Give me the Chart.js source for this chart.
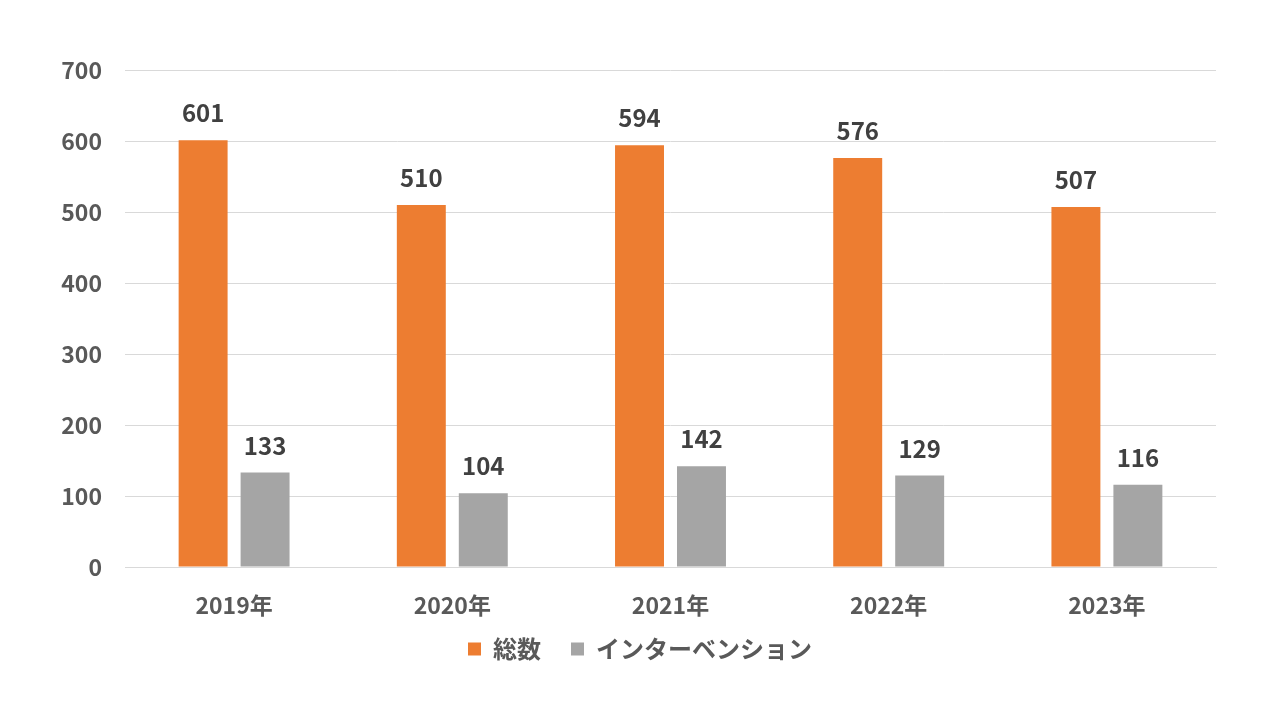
<!DOCTYPE html>
<html>
<head>
<meta charset="utf-8">
<script src="https://cdn.jsdelivr.net/npm/chart.js@4/dist/chart.umd.min.js"></script>
<style>
  html, body { margin: 0; padding: 0; background: #ffffff; }
  #wrap { width: 1280px; height: 720px; }
</style>
</head>
<body>
<div id="wrap"><canvas id="barChart"></canvas></div>
<script>
const years = ['2019年', '2020年', '2021年', '2022年', '2023年'];
const totalCounts = [601, 510, 594, 576, 507];
const interventionCounts = [133, 104, 142, 129, 116];
const yTicks = [0, 100, 200, 300, 400, 500, 600, 700];

const FONT = '"Noto Sans CJK JP", "Noto Sans", sans-serif';

// draws the value above each bar
const valueLabels = {
    id: 'valueLabels',
    afterDatasetsDraw(chart) {
        const ctx = chart.ctx;
        ctx.save();
        ctx.font = 'bold 24px ' + FONT;
        ctx.fillStyle = '#404040';
        ctx.textAlign = 'center';
        ctx.textBaseline = 'middle';
        chart.data.datasets.forEach((ds, i) => {
            chart.getDatasetMeta(i).data.forEach((bar, j) => {
                ctx.fillText(ds.data[j], bar.x, bar.y - 27);
            });
        });
        ctx.restore();
    }
};

// axis boxes are kept narrow for the layout, so widen their label clip area afterwards
const unclipLabels = {
    id: 'unclipLabels',
    afterLayout(chart) {
        chart.scales.x.bottom = chart.height;
        chart.scales.y.left = 0;
    }
};

const ctx = document.getElementById('barChart').getContext('2d');
const barChart = new Chart(ctx, {
    type: 'bar',
    data: {
        labels: years,
        datasets: [{
            label: '総数',
            data: totalCounts,
            backgroundColor: '#ED7D31'
        }, {
            label: 'インターベンション',
            data: interventionCounts,
            backgroundColor: '#A5A5A5'
        }]
    },
    options: {
        responsive: true,
        maintainAspectRatio: false,
        animation: false,
        categoryPercentage: 0.568,
        barPercentage: 0.79,
        layout: {
            padding: { top: 70, right: 64, left: 64, bottom: 49 }
        },
        scales: {
            y: {
                min: 0,
                max: 700,
                afterFit: function(scale) { scale.width = 61; },
                afterBuildTicks: function(scale) {
                    scale.ticks = yTicks.map(v => ({ value: v }));
                },
                ticks: {
                    color: '#595959',
                    padding: 23,
                    font: { family: FONT, size: 23, weight: 'bold' }
                },
                grid: {
                    color: '#D9D9D9',
                    lineWidth: 1,
                    drawTicks: false
                },
                border: { display: false }
            },
            x: {
                afterFit: function(scale) { scale.height = 40; },
                ticks: {
                    color: '#595959',
                    padding: 24,
                    font: { family: FONT, size: 23, weight: 'bold' }
                },
                grid: { display: false, drawTicks: false },
                border: { color: '#D9D9D9' }
            }
        },
        plugins: {
            legend: {
                position: 'bottom',
                labels: {
                    color: '#595959',
                    boxWidth: 13,
                    boxHeight: 13,
                    padding: 30,
                    font: { family: FONT, size: 24, weight: 'bold' }
                }
            },
            tooltip: { enabled: false }
        }
    },
    plugins: [valueLabels, unclipLabels]
});
</script>
</body>
</html>
